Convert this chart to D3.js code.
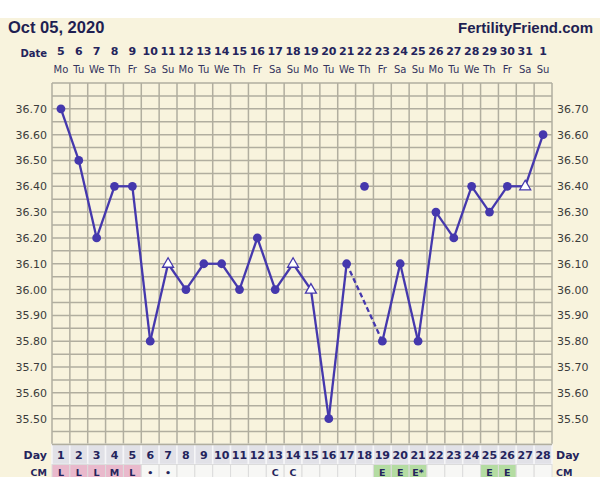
<!DOCTYPE html>
<meta charset="utf-8">
<style>
body { margin: 0; background: #fff; }
text { font-family: "DejaVu Sans", Verdana, sans-serif; }
.bold { font-weight: bold; }
.head { font-family: "Liberation Sans", Arial, sans-serif; font-weight: bold; }
</style>
<body>
<script src="https://cdnjs.cloudflare.com/ajax/libs/d3/7.8.5/d3.min.js"></script>
<script>

// chart data
var cycleDays = d3.range(1, 29);
var dateLabels = ["5","6","7","8","9","10","11","12","13","14","15","16","17","18",
                  "19","20","21","22","23","24","25","26","27","28","29","30","31","1"];
var dowLabels = ["Mo","Tu","We","Th","Fr","Sa","Su","Mo","Tu","We","Th","Fr","Sa","Su",
                 "Mo","Tu","We","Th","Fr","Sa","Su","Mo","Tu","We","Th","Fr","Sa","Su"];
var temps = [36.70, 36.50, 36.20, 36.40, 36.40, 35.80, 36.10, 36.00, 36.10, 36.10,
             36.00, 36.20, 36.00, 36.10, 36.00, 35.50, 36.10, 36.40, 35.80, 36.10,
             35.80, 36.30, 36.20, 36.40, 36.30, 36.40, 36.40, 36.60];
// "o" = normal, "t" = open triangle, "x" = discarded (not connected)
var markers = ["o","o","o","o","o","o","t","o","o","o","o","o","o","t","t","o","o","x",
               "o","o","o","o","o","o","o","o","t","o"];
var cmValues = ["L","L","L","M","L","•","•","","","","","","C","C",
                "","","","","E","E","E*","","","","E","E","",""];
var yTicks = [35.50, 35.60, 35.70, 35.80, 35.90, 36.00, 36.10, 36.20, 36.30, 36.40, 36.50, 36.60, 36.70];

var width = 600, height = 477;
var plotLeft = 52, plotRight = 552, plotTop = 83, plotBottom = 444.5;
var navy = "#24245c", lineColor = "#4538ad";

var svg = d3.select("body").append("svg")
    .attr("width", width)
    .attr("height", height);

svg.append("rect")
    .attr("x", 0).attr("y", 18)
    .attr("width", width).attr("height", height - 18)
    .attr("fill", "#f8f3dd");

var x = d3.scaleBand().domain(cycleDays).range([plotLeft, plotRight]);
var y = d3.scaleLinear().domain([35.4, 36.8]).range([plotBottom, plotTop]);

// grid
var grid = svg.append("g").attr("stroke", "#b1ae9f").attr("stroke-width", 1.5);
grid.selectAll(".hl")
    .data(d3.range(0, 29))
    .enter().append("line")
    .attr("x1", plotLeft).attr("x2", plotRight)
    .attr("y1", function(i) { return y(35.4 + i * 0.05); })
    .attr("y2", function(i) { return y(35.4 + i * 0.05); });
grid.selectAll(".vl")
    .data(cycleDays.concat([29]))
    .enter().append("line")
    .attr("y1", plotTop).attr("y2", plotBottom)
    .attr("x1", function(d) { return d <= 28 ? x(d) : plotRight; })
    .attr("x2", function(d) { return d <= 28 ? x(d) : plotRight; });

// header
svg.append("text").attr("class", "head")
    .attr("x", 8).attr("y", 33)
    .attr("font-size", 16.5).attr("fill", "#1f1f52")
    .text("Oct 05, 2020");
svg.append("text").attr("class", "head")
    .attr("x", 593).attr("y", 33)
    .attr("text-anchor", "end")
    .attr("font-size", 15).attr("fill", "#1f1f52")
    .text("FertilityFriend.com");

svg.append("text").attr("class", "bold")
    .attr("x", 47).attr("y", 57)
    .attr("text-anchor", "end")
    .attr("font-size", 10).attr("fill", navy)
    .text("Date");

svg.selectAll(".date")
    .data(cycleDays)
    .enter().append("text")
    .attr("class", "bold")
    .attr("x", function(d) { return x(d) + x.bandwidth() / 2; })
    .attr("y", 55)
    .attr("text-anchor", "middle")
    .attr("font-size", 11)
    .attr("fill", navy)
    .text(function(d, i) { return dateLabels[i]; });

svg.selectAll(".dow")
    .data(cycleDays)
    .enter().append("text")
    .attr("x", function(d) { return x(d) + x.bandwidth() / 2; })
    .attr("y", 73)
    .attr("text-anchor", "middle")
    .attr("font-size", 10)
    .attr("fill", "#33335e")
    .text(function(d, i) { return dowLabels[i]; });

// y labels both sides
var fmt = d3.format(".2f");
svg.selectAll(".yl")
    .data(yTicks)
    .enter().append("text")
    .attr("x", 47)
    .attr("y", function(d) { return y(d) + 4; })
    .attr("text-anchor", "end")
    .attr("font-size", 11)
    .attr("fill", "#3b3b3b")
    .text(fmt);
svg.selectAll(".yr")
    .data(yTicks)
    .enter().append("text")
    .attr("x", 557)
    .attr("y", function(d) { return y(d) + 4; })
    .attr("font-size", 11)
    .attr("fill", "#3b3b3b")
    .text(fmt);

// day row
var dayTop = plotBottom, dayH = 20;
svg.selectAll(".dayc")
    .data(cycleDays)
    .enter().append("rect")
    .attr("x", function(d) { return x(d); })
    .attr("y", dayTop)
    .attr("width", x.bandwidth())
    .attr("height", dayH)
    .attr("fill", "#e1e1e7")
    .attr("stroke", "#f6f6f8")
    .attr("stroke-width", 1.5);
svg.append("line")
    .attr("x1", plotLeft).attr("x2", plotRight)
    .attr("y1", dayTop).attr("y2", dayTop)
    .attr("stroke", "#b1ae9f").attr("stroke-width", 1.5);
svg.selectAll(".dayt")
    .data(cycleDays)
    .enter().append("text")
    .attr("class", "bold")
    .attr("x", function(d) { return x(d) + x.bandwidth() / 2; })
    .attr("y", dayTop + 14.5)
    .attr("text-anchor", "middle")
    .attr("font-size", 11)
    .attr("fill", navy)
    .text(function(d) { return d; });
svg.append("text").attr("class", "bold")
    .attr("x", 47).attr("y", dayTop + 14)
    .attr("text-anchor", "end")
    .attr("font-size", 11).attr("fill", navy)
    .text("Day");
svg.append("text").attr("class", "bold")
    .attr("x", 556).attr("y", dayTop + 14)
    .attr("font-size", 11).attr("fill", navy)
    .text("Day");

// CM row
var cmTop = dayTop + dayH;
function cmFill(v) {
  if (v === "L" || v === "M") return "#e9b9cc";
  if (v.charAt(0) === "E") return "#b4dca2";
  return "#f7f7f5";
}
svg.selectAll(".cmc")
    .data(cycleDays)
    .enter().append("rect")
    .attr("x", function(d) { return x(d); })
    .attr("y", cmTop)
    .attr("width", x.bandwidth())
    .attr("height", 20)
    .attr("fill", function(d, i) { return cmFill(cmValues[i]); })
    .attr("stroke", "#dcdcdc")
    .attr("stroke-width", 1);
svg.selectAll(".cmt")
    .data(cycleDays)
    .enter().append("text")
    .attr("class", "bold")
    .attr("x", function(d) { return x(d) + x.bandwidth() / 2; })
    .attr("y", cmTop + 11.5)
    .attr("text-anchor", "middle")
    .attr("font-size", 9.5)
    .attr("fill", navy)
    .text(function(d, i) { return cmValues[i]; });
svg.append("text").attr("class", "bold")
    .attr("x", 47).attr("y", cmTop + 11)
    .attr("text-anchor", "end")
    .attr("font-size", 9.5).attr("fill", navy)
    .text("CM");
svg.append("text").attr("class", "bold")
    .attr("x", 556).attr("y", cmTop + 11)
    .attr("font-size", 9.5).attr("fill", navy)
    .text("CM");

// temperature line
var pts = cycleDays.map(function(d, i) { return {day: d, temp: temps[i], mark: markers[i]}; });
var kept = pts.filter(function(p) { return p.mark !== "x"; });
var cx = function(p) { return x(p.day) + x.bandwidth() / 2; };
var line = d3.line().x(cx).y(function(p) { return y(p.temp); });

var segs = [];
for (var i = 1; i < kept.length; i++) {
  segs.push({a: kept[i - 1], b: kept[i], dashed: kept[i].day - kept[i - 1].day > 1});
}
svg.selectAll(".seg")
    .data(segs)
    .enter().append("path")
    .attr("d", function(s) { return line([s.a, s.b]); })
    .attr("fill", "none")
    .attr("stroke", lineColor)
    .attr("stroke-width", 2.3)
    .attr("stroke-dasharray", function(s) { return s.dashed ? "5,3" : null; });

svg.selectAll(".dot")
    .data(pts.filter(function(p) { return p.mark !== "t"; }))
    .enter().append("circle")
    .attr("cx", cx)
    .attr("cy", function(p) { return y(p.temp); })
    .attr("r", 4.4)
    .attr("fill", lineColor);

svg.selectAll(".tri")
    .data(pts.filter(function(p) { return p.mark === "t"; }))
    .enter().append("path")
    .attr("transform", function(p) { return "translate(" + cx(p) + "," + (y(p.temp) - 1) + ")"; })
    .attr("d", "M0,-5L5.5,4.5L-5.5,4.5Z")
    .attr("fill", "#fff")
    .attr("stroke", lineColor)
    .attr("stroke-width", 1.3);

</script>
</body>
